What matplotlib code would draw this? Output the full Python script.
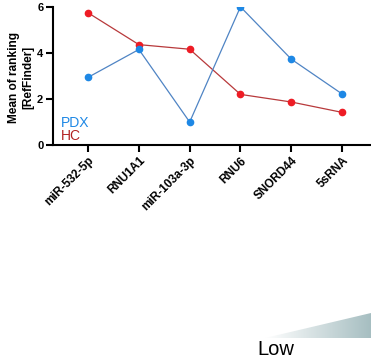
import matplotlib
matplotlib.use("Agg")
import matplotlib.pyplot as plt
import numpy as np
from matplotlib.patches import Polygon

plt.rcParams['font.family'] = ['Liberation Sans', 'DejaVu Sans']

genes = ["miR-532-5p", "RNU1A1", "miR-103a-3p", "RNU6", "SNORD44", "5sRNA"]
pdx = [2.94, 4.15, 1.0, 6.0, 3.73, 2.22]
hc = [5.74, 4.36, 4.16, 2.20, 1.87, 1.42]

fig = plt.figure(figsize=(3.71, 3.6), dpi=100)
ax = fig.add_axes([0.143, 0.597, 0.857, 0.384])

x = np.arange(len(genes))
ax.plot(x, hc, color="#B8393B", lw=0.9, marker="o", ms=4.5,
        mfc="#EE1C25", mec="#EE1C25", zorder=3)
ax.plot(x, pdx, color="#4F84C4", lw=0.9, marker="o", ms=4.5,
        mfc="#1E88E5", mec="#1E88E5", zorder=3)

ax.set_xlim(-0.69, 5.57)
ax.set_ylim(0, 6)
ax.set_yticks([0, 2, 4, 6])
ax.set_xticks(x)
ax.set_xticklabels(genes, rotation=45, ha="right", rotation_mode="anchor",
                   fontsize=8.5, fontweight="bold")
for lbl in ax.get_yticklabels():
    lbl.set_fontsize(8)
    lbl.set_fontweight("bold")
ax.tick_params(width=1.5, length=5, direction="out", pad=2)
ax.spines["top"].set_visible(False)
ax.spines["right"].set_visible(False)
ax.spines["left"].set_linewidth(1.5)
ax.spines["bottom"].set_linewidth(1.5)
ax.set_ylabel("Mean of ranking\n[RefFinder]", fontsize=8.6, fontweight="bold",
              linespacing=1.25)
ax.yaxis.set_label_coords(-0.06, 0.49)

ax.text(0.025, 0.13, "PDX", transform=ax.transAxes, color="#1E88E5",
        fontsize=10, va="baseline")
ax.text(0.025, 0.034, "HC", transform=ax.transAxes, color="#B22222",
        fontsize=10, va="baseline")

# gradient wedge at bottom right
gax = fig.add_axes([0, 0, 1, 1], zorder=-1)
gax.set_xlim(0, 371)
gax.set_ylim(360, 0)
gax.axis("off")
grad = np.linspace(0, 1, 256).reshape(1, -1)
cmap = matplotlib.colors.LinearSegmentedColormap.from_list(
    "g", ["#FFFFFF", "#A6BEC1"])
im = gax.imshow(grad, cmap=cmap, extent=[265, 371, 338, 312], aspect="auto")
tri = Polygon([[265, 338], [371, 313], [371, 338]], closed=True,
              transform=gax.transData, facecolor="none", edgecolor="none")
gax.add_patch(tri)
im.set_clip_path(tri)
gax.text(257, 355, "Low", fontsize=14.5, color="black", ha="left",
         va="baseline")

fig.savefig("out.png", dpi=100)
